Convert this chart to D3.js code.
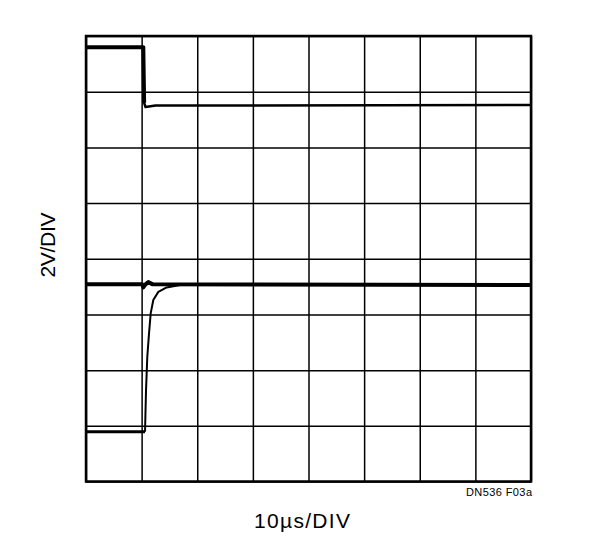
<!DOCTYPE html>
<html>
<head>
<meta charset="utf-8">
<script src="https://cdn.jsdelivr.net/npm/d3@7"></script>
<style>
  html, body { margin: 0; padding: 0; background: #fff; }
  svg { display: block; }
</style>
</head>
<body>
<div id="container"></div>
<script>
// Scope settings: 10us/DIV, 2V/DIV, 8 x 8 divisions
const xTicks = [0, 10, 20, 30, 40, 50, 60, 70, 80];     // us
const yTicks = [-8, -6, -4, -2, 0, 2, 4, 6, 8];          // V

// Top trace (input step)
const topT = [0, 10.3, 10.45, 10.7, 12.5, 80];
const topV = [7.6, 7.6, 5.6, 5.45, 5.5, 5.52];

// Flat trace with small glitch at the step
const flatT = [0, 10.1, 10.3, 10.7, 11.2, 12.0, 80];
const flatV = [-0.92, -0.92, -1.03, -0.92, -0.84, -0.92, -0.94];

// Bottom trace (output recovering)
const lowT = [0, 10.55, 10.61, 10.79, 11.02, 11.33, 11.63, 12.1, 13.0, 14.5, 16.9, 22, 80];
const lowV = [-6.21, -6.21, -6.21, -4.72, -3.52, -2.68, -1.96, -1.48, -1.19, -1.03, -0.94, -0.92, -0.92];

const xLabel = "10\u00b5s/DIV";
const yLabel = "2V/DIV";
const figId = "DN536 F03a";

const W = 595, H = 550;
const plot = { left: 86, top: 36, right: 531, bottom: 481.5 };
const FONT = "'Liberation Sans', Arial, sans-serif";

const svg = d3.select("#container")
    .append("svg")
    .attr("width", W)
    .attr("height", H);

const x = d3.scaleLinear().domain([0, 80]).range([plot.left, plot.right]);
const y = d3.scaleLinear().domain([-8, 8]).range([plot.bottom, plot.top]);

// Grid
svg.append("g")
    .attr("transform", "translate(0," + plot.bottom + ")")
    .call(d3.axisBottom(x).tickValues(xTicks).tickSize(-(plot.bottom - plot.top)).tickFormat(""))
    .call(g => g.select(".domain").remove())
    .call(g => g.selectAll("line").attr("stroke", "#000").attr("stroke-width", 1.5));

svg.append("g")
    .attr("transform", "translate(" + plot.left + ",0)")
    .call(d3.axisLeft(y).tickValues(yTicks).tickSize(-(plot.right - plot.left)).tickFormat(""))
    .call(g => g.select(".domain").remove())
    .call(g => g.selectAll("line").attr("stroke", "#000").attr("stroke-width", 1.5));

// Frame
svg.append("rect")
    .attr("x", plot.left)
    .attr("y", plot.top)
    .attr("width", plot.right - plot.left)
    .attr("height", plot.bottom - plot.top)
    .attr("fill", "none")
    .attr("stroke", "#000")
    .attr("stroke-width", 2.5);

// Traces
svg.append("clipPath").attr("id", "clip")
    .append("rect")
    .attr("x", plot.left)
    .attr("y", plot.top)
    .attr("width", plot.right - plot.left)
    .attr("height", plot.bottom - plot.top);

const line = d3.line().x(d => x(d.t)).y(d => y(d.v));
const traces = svg.append("g").attr("clip-path", "url(#clip)");

function drawTrace(ts, vs, width)
{
    let data = ts.map((t, i) => ({ t: t, v: vs[i] }));
    traces.append("path")
        .datum(data)
        .attr("fill", "none")
        .attr("stroke", "#000")
        .attr("stroke-width", width)
        .attr("stroke-linejoin", "round")
        .attr("d", line);
}

drawTrace(topT, topV, 2.5);
drawTrace(topT.slice(0, 3), topV.slice(0, 3), 4);
drawTrace(flatT, flatV, 4);
drawTrace(lowT.slice(0, 3), lowV.slice(0, 3), 3);
drawTrace(lowT.slice(2), lowV.slice(2), 2);

// Labels
function addLabel(tx, ty, angle, anchor, size, len, str)
{
    svg.append("text")
        .attr("transform", "translate(" + tx + "," + ty + ") rotate(" + angle + ")")
        .attr("text-anchor", anchor)
        .attr("textLength", len)
        .attr("lengthAdjust", "spacing")
        .style("font-family", FONT)
        .style("font-size", size + "px")
        .text(str);
}

addLabel(302, 528, 0, "middle", 21, 96, xLabel);
addLabel(55, 245, -90, "middle", 21, 65, yLabel);
addLabel(plot.right + 1, 496, 0, "end", 11, 66, figId);
</script>
</body>
</html>
